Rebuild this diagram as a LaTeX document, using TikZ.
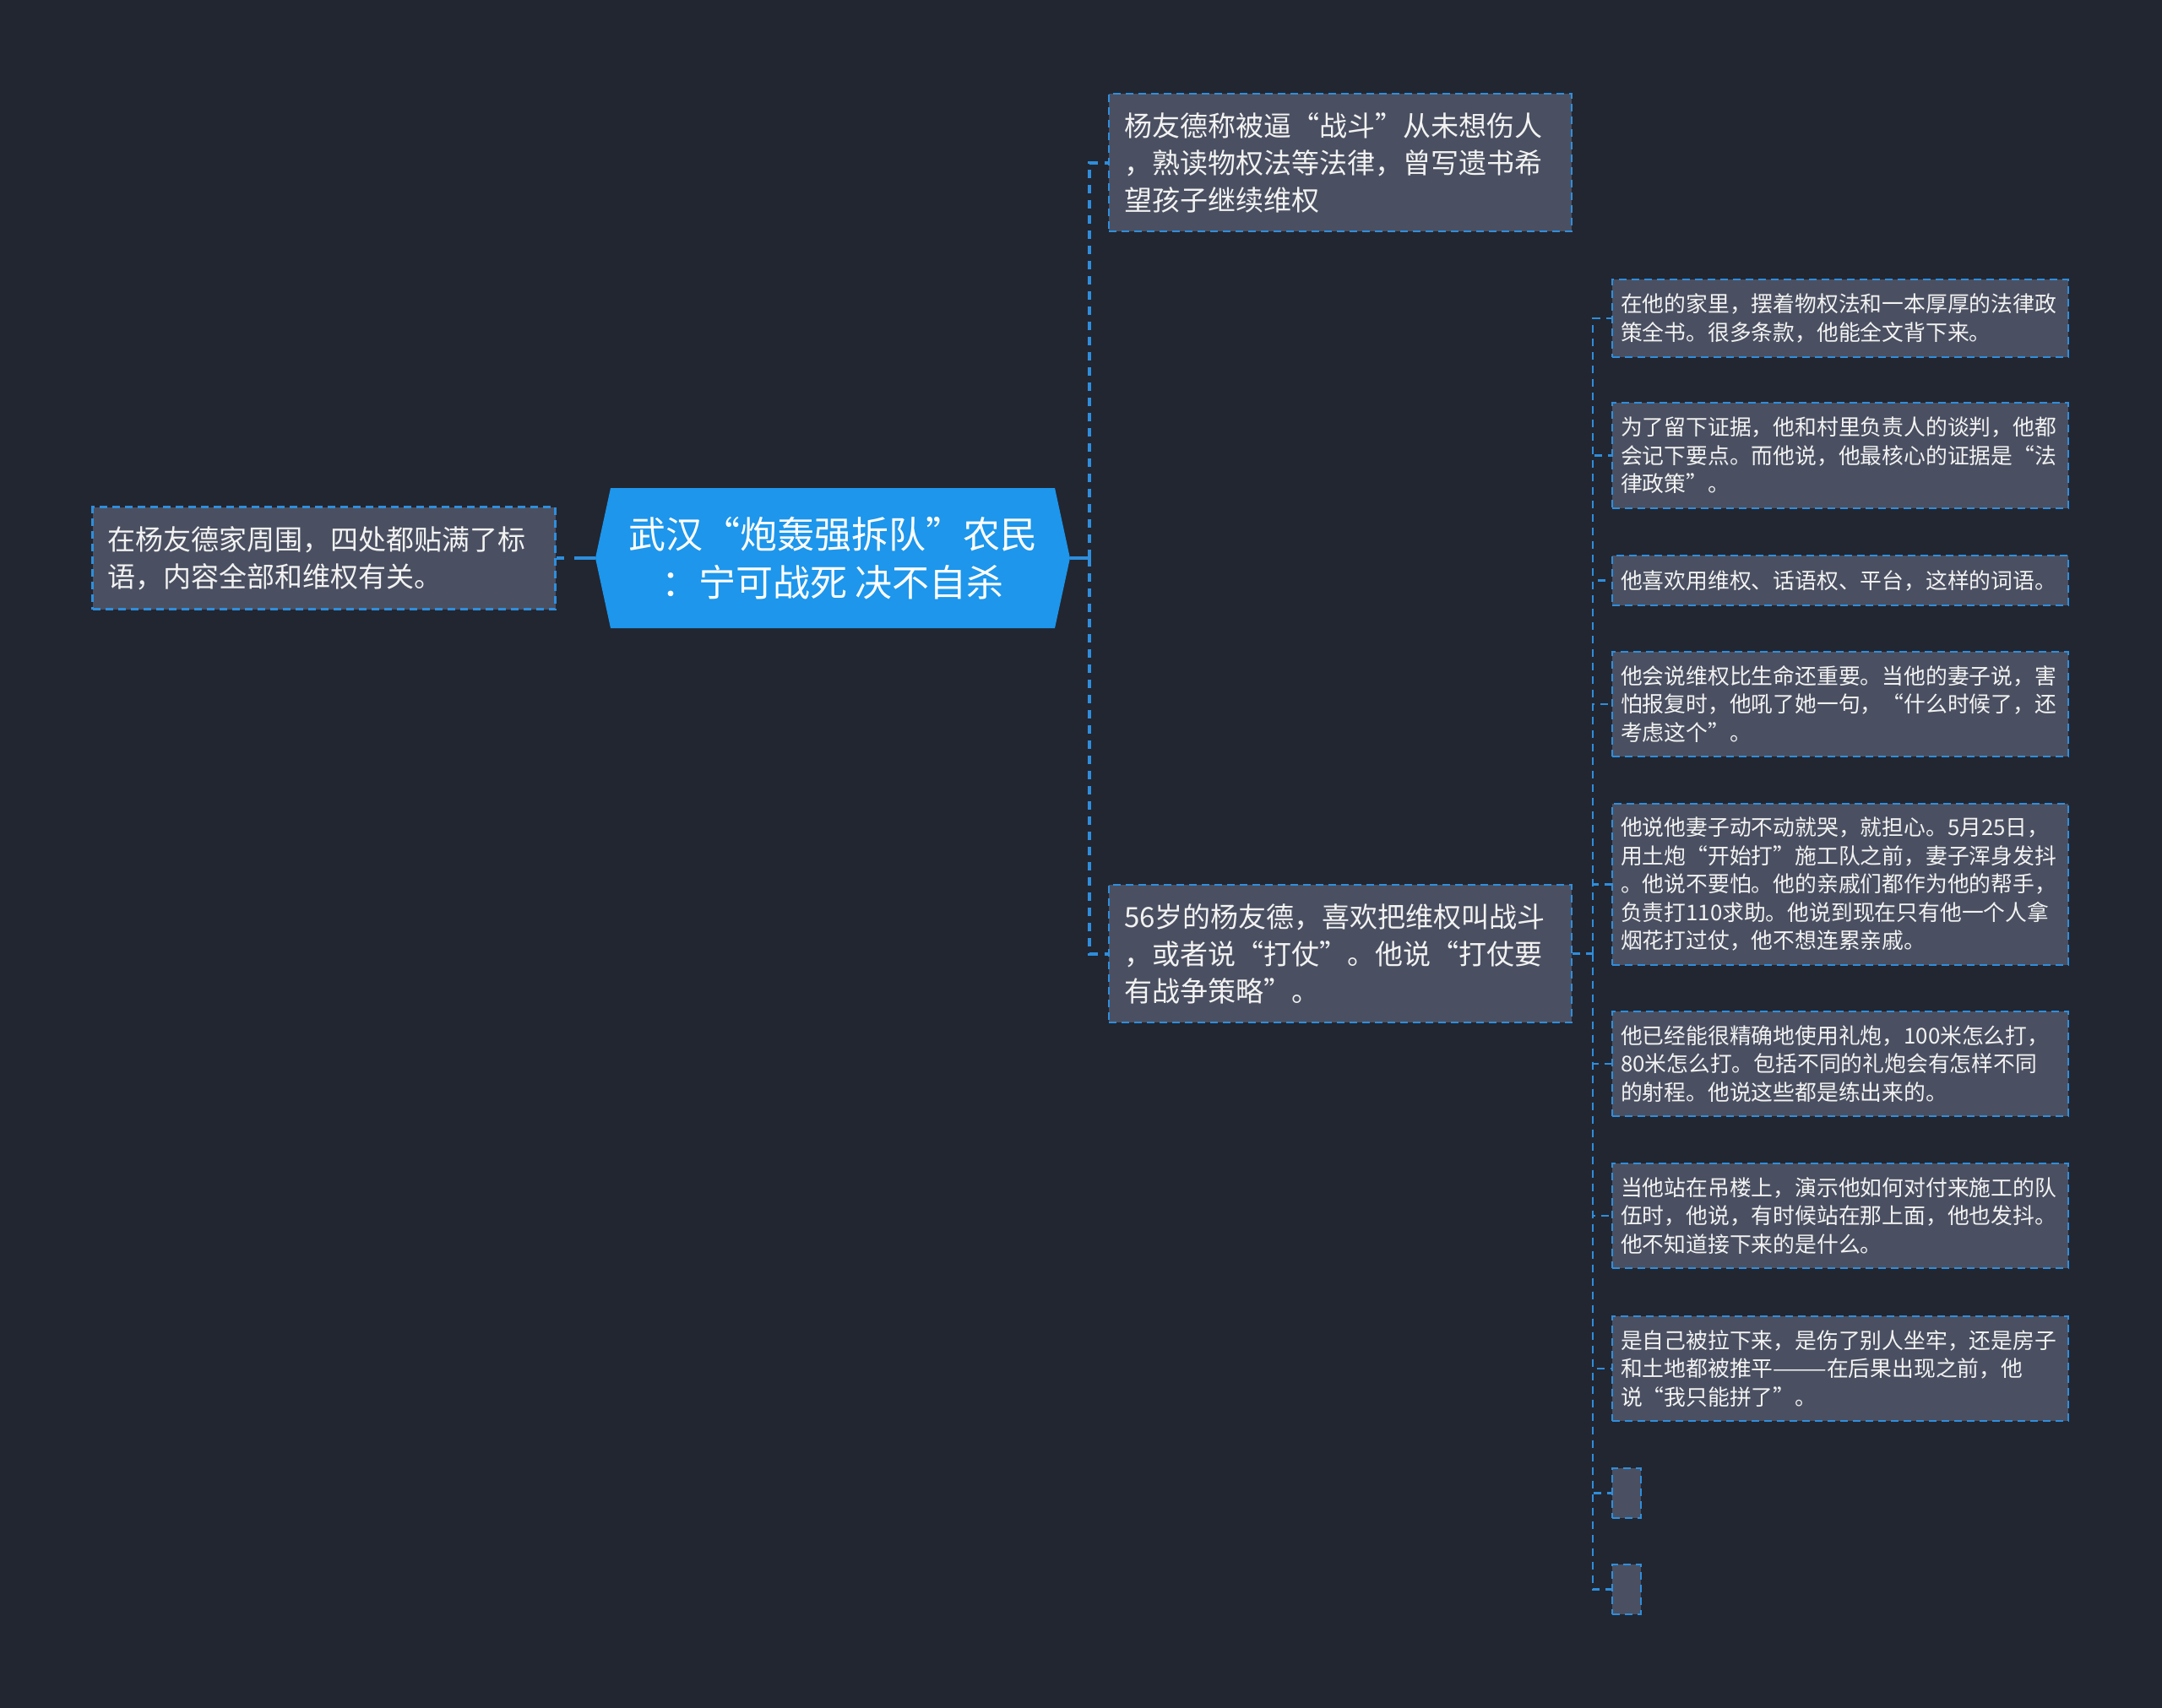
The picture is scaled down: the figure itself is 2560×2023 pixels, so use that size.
\documentclass[tikz,border=0pt]{standalone}
\usepackage{fontspec}
\setmainfont{Noto Sans CJK SC}
\definecolor{bgc}{HTML}{222631}
\definecolor{nodefill}{HTML}{4A5061}
\definecolor{lineblue}{HTML}{2E8EDD}
\definecolor{rootblue}{HTML}{1D96EB}
\definecolor{txt}{HTML}{F2F2F2}
\begin{document}
\begin{tikzpicture}[x=1pt,y=-1pt,
  conn/.style={draw=lineblue, line width=2.5pt, dash pattern=on 9pt off 7pt},
  thickconn/.style={draw=lineblue, line width=4pt, dash pattern=on 10pt off 8pt},
  solidconn/.style={draw=lineblue, line width=4pt},
  basebox/.style={draw=lineblue, fill=nodefill, line width=2.5pt, dash pattern=on 9pt off 6pt, text=txt},
  bigbox/.style={basebox, align=left, text width=512pt, inner xsep=18pt, inner ysep=6pt, font=\fontsize{33}{44}\selectfont},
  smallbox/.style={basebox, align=left, text width=520pt, inner xsep=10pt, inner ysep=4pt, font=\fontsize{25.8}{33.5}\selectfont},
  emptybox/.style={basebox, minimum width=34pt, minimum height=59pt, inner sep=0pt},
  rootbox/.style={text=white, align=center, minimum width=562pt, minimum height=167pt, inner sep=0pt, font=\fontsize{44}{57}\selectfont}
]
\fill[bgc] (0,0) rectangle (2560,2023);
\useasboundingbox (0,0) rectangle (2560,2023);

% root hexagon
\fill[rootblue] (705,661) -- (723,578) -- (1249,578) -- (1267,661) -- (1249,744) -- (723,744) -- cycle;
\node[rootbox] (root) at (986,661) {武汉“炮轰强拆队”农民\\：宁可战死 决不自杀};

\node[bigbox, minimum height=121pt] (L) at (383.5,661) {在杨友德家周围，四处都贴满了标\\语，内容全部和维权有关。};

\node[bigbox, minimum height=163pt] (A) at (1587,192.5) {杨友德称被逼“战斗”从未想伤人\\，熟读物权法等法律，曾写遗书希\\望孩子继续维权};
\node[bigbox, minimum height=163pt] (B) at (1587,1129.5) {56岁的杨友德，喜欢把维权叫战斗\\，或者说“打仗”。他说“打仗要\\有战争策略”。};

\node[smallbox, minimum height=92pt] (C1) at (2179,377) {在他的家里，摆着物权法和一本厚厚的法律政\\策全书。很多条款，他能全文背下来。};
\node[smallbox, minimum height=125pt] (C2) at (2179,539.5) {为了留下证据，他和村里负责人的谈判，他都\\会记下要点。而他说，他最核心的证据是“法\\律政策”。};
\node[smallbox, minimum height=59pt] (C3) at (2179,687.5) {他喜欢用维权、话语权、平台，这样的词语。};
\node[smallbox, minimum height=124pt] (C4) at (2179,834) {他会说维权比生命还重要。当他的妻子说，害\\怕报复时，他吼了她一句，“什么时候了，还\\考虑这个”。};
\node[smallbox, minimum height=191pt] (C5) at (2179,1047.5) {他说他妻子动不动就哭，就担心。5月25日，\\用土炮“开始打”施工队之前，妻子浑身发抖\\。他说不要怕。他的亲戚们都作为他的帮手，\\负责打110求助。他说到现在只有他一个人拿\\烟花打过仗，他不想连累亲戚。};
\node[smallbox, minimum height=124pt] (C6) at (2179,1260) {他已经能很精确地使用礼炮，100米怎么打，\\80米怎么打。包括不同的礼炮会有怎样不同\\的射程。他说这些都是练出来的。};
\node[smallbox, minimum height=124pt] (C7) at (2179,1440) {当他站在吊楼上，演示他如何对付来施工的队\\伍时，他说，有时候站在那上面，他也发抖。\\他不知道接下来的是什么。};
\node[smallbox, minimum height=124pt] (C8) at (2179,1621) {是自己被拉下来，是伤了别人坐牢，还是房子\\和土地都被推平———在后果出现之前，他\\说“我只能拼了”。};
\node[emptybox] (C9) at (1926,1768.5) {};
\node[emptybox] (C10) at (1926,1882.5) {};

% connectors
\coordinate (j1) at (1290,661);
\coordinate (j2) at (1886,1129.5);
\draw[thickconn, dash pattern=on 25pt off 12pt on 10pt off 8pt] (root.west) -- (L.east);
\draw[solidconn] (root.east) -- (j1);
\draw[thickconn] (j1) |- (A.west);
\draw[thickconn] (j1) |- (B.west);
\draw[conn] (B.east) -- (j2);
\foreach \c in {C1,C2,C3,C4,C5,C6,C7,C8,C9,C10}
  \draw[conn] (j2) |- (\c.west);
\end{tikzpicture}
\end{document}
